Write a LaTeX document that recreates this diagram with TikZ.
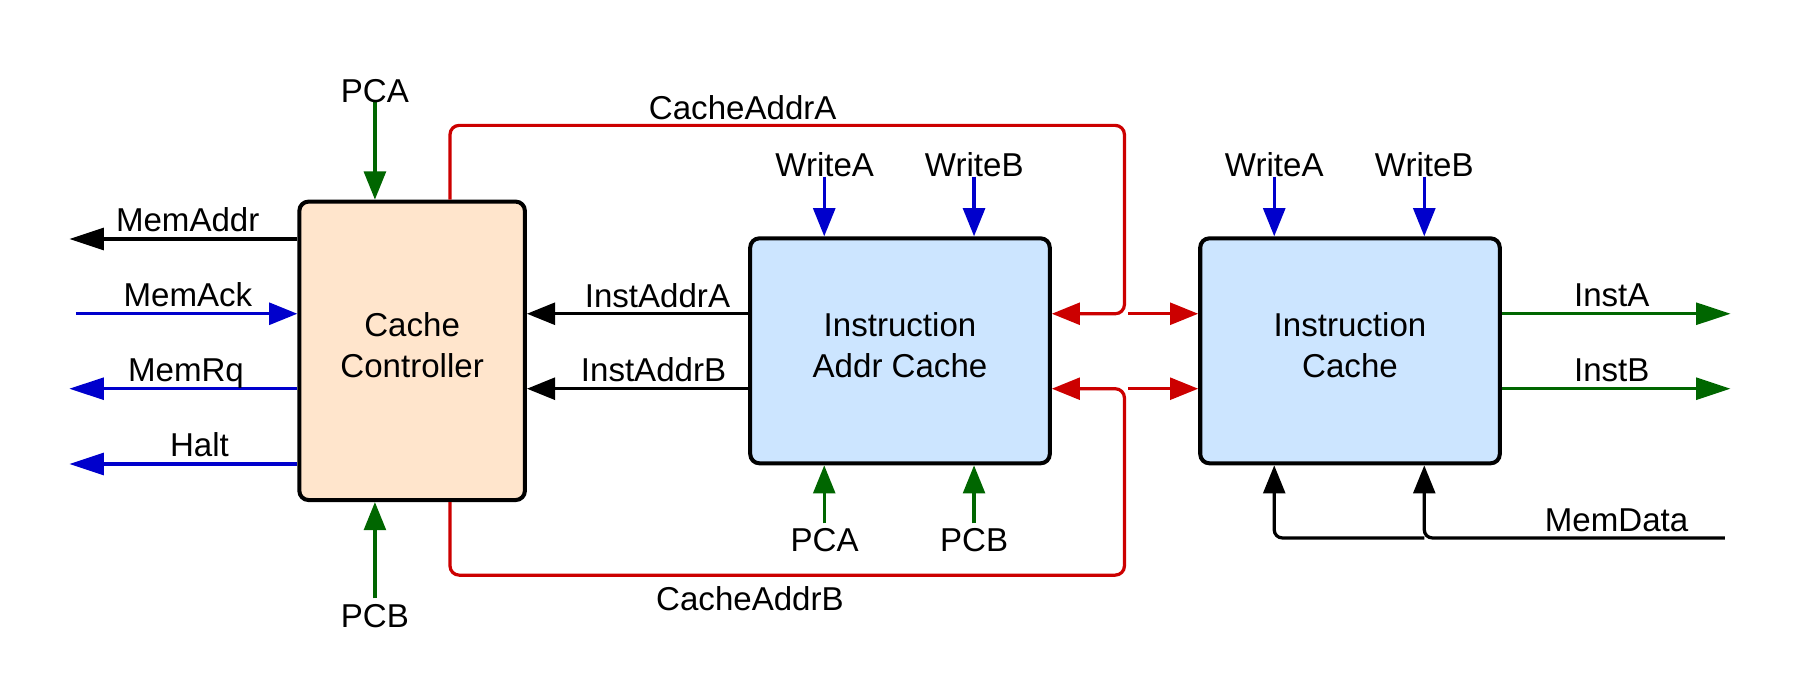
\documentclass[tikz,border=0pt]{standalone}
\usepackage{fontspec}
\setmainfont{Liberation Sans}
\usetikzlibrary{arrows.meta,calc}
\definecolor{cred}{HTML}{CC0000}
\definecolor{cblue}{HTML}{0000CC}
\definecolor{cgreen}{HTML}{006600}
\definecolor{peach}{HTML}{FFE5CC}
\definecolor{lblue}{HTML}{CCE5FF}
\tikzset{
  fnt/.style={font=\fontsize{16.4pt}{20.6pt}\selectfont},
  blockbox/.style={draw=black, line width=2pt, rounded corners=0.16cm,
     minimum width=5.22cm, minimum height=3.92cm, inner sep=0pt},
  boxtext/.style={fnt, align=center, inner sep=0pt},
  lbl/.style={fnt, inner sep=0pt, text height=11.74pt, text depth=0pt},
  wire/.style={line width=1.6pt},
  tip/.style={-{Triangle[length=0.49cm,width=0.38cm]}},
  tipL/.style={-{Triangle[length=0.6cm,width=0.38cm]}},
}
\begin{document}
\begin{tikzpicture}[x=0.02cm,y=-0.02cm]
\useasboundingbox (0,0) rectangle (1568,606);
% boxes
\node[blockbox, fill=peach, minimum width=3.93cm, minimum height=5.2cm] (cc) at (359,305.6) {};
\node[blockbox, fill=lblue] (iac) at (784,305.6) {};
\node[blockbox, fill=lblue] (ic) at (1176,305.6) {};
\node[boxtext] (cctext) at ($(cc.center)+(0,-5)$) {Cache\\Controller};
\node[boxtext] (iactext) at ($(iac.center)+(0,-5)$) {Instruction\\Addr Cache};
\node[boxtext] (ictext) at ($(ic.center)+(0,-5)$) {Instruction\\Cache};
% coordinates
\coordinate (rowA) at (0,273.3);
\coordinate (rowB) at (0,338.6);
\coordinate (memaddrE) at (60.4,208.2);
\coordinate (memackS) at (66,273.3);
\coordinate (memrqE) at (60.4,338.6);
\coordinate (haltE) at (60.4,404.2);
\coordinate (pcaS) at (326.6,88.6);
\coordinate (pcbS) at (326.6,521.2);
\coordinate (caA1) at (392,109.2);
\coordinate (caA2) at (979.5,109.2);
\coordinate (caA3) at (979.5,273.3);
\coordinate (caB1) at (392,501);
\coordinate (caB2) at (979.5,501);
\coordinate (caB3) at (979.5,338.6);
\coordinate (splitA) at (983,273.3);
\coordinate (splitB) at (983,338.6);
\coordinate (iwa) at (718,153.9);
\coordinate (iwb) at (848.5,153.9);
\coordinate (ipa) at (718,455.9);
\coordinate (ipb) at (848.5,455.9);
\coordinate (cwa) at (1110,153.9);
\coordinate (cwb) at (1240.7,153.9);
\coordinate (instAE) at (1507.5,273.3);
\coordinate (instBE) at (1507.5,338.6);
\coordinate (md) at (1502.6,468.6);
\coordinate (mdj) at (1240.7,468.6);
\coordinate (mdl) at (1110,468.6);
% cache controller left side
\draw[wire,tipL,black] (cc.west |- memaddrE) -- (memaddrE);
\draw[wire,tip,cblue] (memackS) -- (cc.west |- memackS);
\draw[wire,tipL,cblue] (cc.west |- memrqE) -- (memrqE);
\draw[wire,tipL,cblue] (cc.west |- haltE) -- (haltE);
\node[lbl] (lmemaddr) at (163.5,191.4) {MemAddr};
\node[lbl] (lmemack) at (163.7,257) {MemAck};
\node[lbl] (lmemrq) at (162,322) {MemRq};
\node[lbl] (lhalt) at (173.8,387) {Halt};
% PC inputs to cache controller
\draw[wire,tip,cgreen] (pcaS) -- (cc.north -| pcaS);
\draw[wire,tip,cgreen] (pcbS) -- (cc.south -| pcbS);
\node[lbl] (lpca) at (326.6,79.1) {PCA};
\node[lbl] (lpcb) at (326.6,536.1) {PCB};
% CacheAddr red loops
\draw[wire,tip,cred,rounded corners=0.16cm] (cc.north -| caA1) -- (caA1) -- (caA2) -- (caA3) -- (iac.east |- caA3);
\draw[wire,tip,cred] (splitA) -- (ic.west |- splitA);
\draw[wire,tip,cred,rounded corners=0.16cm] (cc.south -| caB1) -- (caB1) -- (caB2) -- (caB3) -- (iac.east |- caB3);
\draw[wire,tip,cred] (splitB) -- (ic.west |- splitB);
\node[lbl] (lcaa) at (647,93.6) {CacheAddrA};
\node[lbl] (lcab) at (653.3,521.2) {CacheAddrB};
% InstAddr
\draw[wire,tip,black] (iac.west |- rowA) -- (cc.east |- rowA);
\draw[wire,tip,black] (iac.west |- rowB) -- (cc.east |- rowB);
\node[lbl] (liaa) at (572.7,257.4) {InstAddrA};
\node[lbl] (liab) at (569.3,321.9) {InstAddrB};
% IAC top/bottom
\draw[wire,tip,cblue] (iwa) -- (iac.north -| iwa);
\draw[wire,tip,cblue] (iwb) -- (iac.north -| iwb);
\draw[wire,tip,cgreen] (ipa) -- (iac.south -| ipa);
\draw[wire,tip,cgreen] (ipb) -- (iac.south -| ipb);
\node[lbl] (liwa) at (718.4,143.7) {WriteA};
\node[lbl] (liwb) at (848.7,143.7) {WriteB};
\node[lbl] (lipa) at (718.3,470.5) {PCA};
\node[lbl] (lipb) at (848.6,470.5) {PCB};
% IC top
\draw[wire,tip,cblue] (cwa) -- (ic.north -| cwa);
\draw[wire,tip,cblue] (cwb) -- (ic.north -| cwb);
\node[lbl] (lcwa) at (1110,143.7) {WriteA};
\node[lbl] (lcwb) at (1240.7,143.7) {WriteB};
% IC outputs
\draw[wire,tipL,cgreen] (ic.east |- instAE) -- (instAE);
\draw[wire,tipL,cgreen] (ic.east |- instBE) -- (instBE);
\node[lbl] (linsta) at (1404,256.7) {InstA};
\node[lbl] (linstb) at (1404,321.9) {InstB};
% MemData
\draw[wire,tip,black,rounded corners=0.14cm] (md) -- (mdj) -- (ic.south -| mdj);
\draw[wire,tip,black,rounded corners=0.14cm] (mdj) -- (mdl) -- (ic.south -| mdl);
\node[lbl] (lmd) at (1408.2,452.7) {MemData};
\end{tikzpicture}
\end{document}
